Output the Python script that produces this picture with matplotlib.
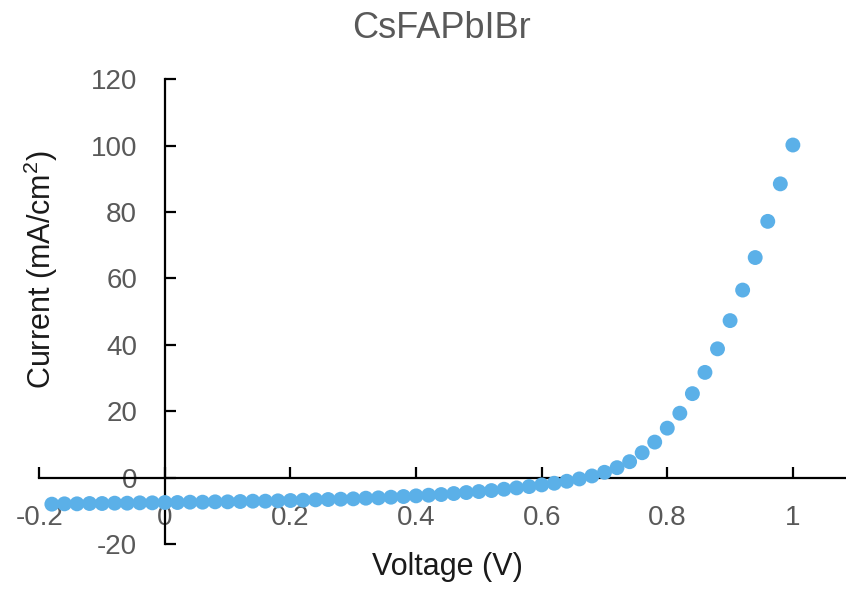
import matplotlib.pyplot as plt
import numpy as np

plt.rcParams['font.family'] = ['Liberation Sans', 'DejaVu Sans']
plt.rcParams['axes.unicode_minus'] = False
plt.rcParams['mathtext.fontset'] = 'custom'
plt.rcParams['mathtext.rm'] = 'Liberation Sans'
plt.rcParams['mathtext.default'] = 'rm'

# === Data ===
voltage = [-0.18, -0.16, -0.14, -0.12, -0.10, -0.08, -0.06, -0.04, -0.02, 0.00,
           0.02, 0.04, 0.06, 0.08, 0.10, 0.12, 0.14, 0.16, 0.18, 0.20,
           0.22, 0.24, 0.26, 0.28, 0.30, 0.32, 0.34, 0.36, 0.38, 0.40,
           0.42, 0.44, 0.46, 0.48, 0.50, 0.52, 0.54, 0.56, 0.58, 0.60,
           0.62, 0.64, 0.66, 0.68, 0.70, 0.72, 0.74, 0.76, 0.78, 0.80,
           0.82, 0.84, 0.86, 0.88, 0.90, 0.92, 0.94, 0.96, 0.98, 1.00]
current = [-8.0, -7.9, -7.9, -7.8, -7.8, -7.7, -7.7, -7.6, -7.6, -7.5,
           -7.5, -7.4, -7.4, -7.3, -7.3, -7.2, -7.1, -7.1, -7.0, -6.9,
           -6.8, -6.7, -6.6, -6.5, -6.4, -6.2, -6.1, -5.9, -5.7, -5.5,
           -5.3, -5.1, -4.8, -4.5, -4.2, -3.9, -3.5, -3.1, -2.7, -2.2,
           -1.7, -1.1, -0.4, 0.5, 1.6, 3.0, 4.8, 7.5, 10.7, 14.9,
           19.4, 25.3, 31.7, 38.8, 47.3, 56.5, 66.3, 77.2, 88.5, 100.2]
x_ticks = [-0.2, 0, 0.2, 0.4, 0.6, 0.8, 1]
x_tick_labels = ['-0.2', '0', '0.2', '0.4', '0.6', '0.8', '1']
y_ticks = [-20, 0, 20, 40, 60, 80, 100, 120]

W, H = 846, 591
fig = plt.figure(figsize=(W / 100, H / 100), dpi=100)
ax = fig.add_axes([39.3 / W, 1 - 544 / H, (845 - 39.3) / W, (544 - 79.3) / H])

ax.scatter(voltage, current, s=115, color='#5bb0e8', edgecolors='none', zorder=3)

ax.set_xlim(-0.2, 1.083)
ax.set_ylim(-20, 120)

# Excel-style crossing axes
for s in ['top', 'right']:
    ax.spines[s].set_visible(False)
ax.spines['bottom'].set_position(('data', 0))
ax.spines['left'].set_position(('data', 0))
for s in ['bottom', 'left']:
    ax.spines[s].set_linewidth(1.6)
    ax.spines[s].set_color('black')

ax.set_xticks(x_ticks)
ax.set_xticklabels(x_tick_labels)
ax.set_yticks(y_ticks)
ax.tick_params(axis='x', direction='in', length=8, width=1.6, pad=20,
               labelsize=20, labelcolor='#595959')
ax.tick_params(axis='y', direction='in', length=8, width=1.6, pad=20,
               labelsize=20, labelcolor='#595959')

fig.text(441 / W, 1 - 28 / H, 'CsFAPbIBr', ha='center', va='center',
         fontsize=26, color='#595959')
fig.text(447 / W, 1 - 567 / H, 'Voltage (V)', ha='center', va='center',
         fontsize=22, color='#1a1a1a')
fig.text(41 / W, 1 - 270 / H, 'Current (mA/cm$^2$)', ha='center', va='center',
         rotation=90, fontsize=22, color='#1a1a1a')

fig.savefig('out.png', dpi=100)
